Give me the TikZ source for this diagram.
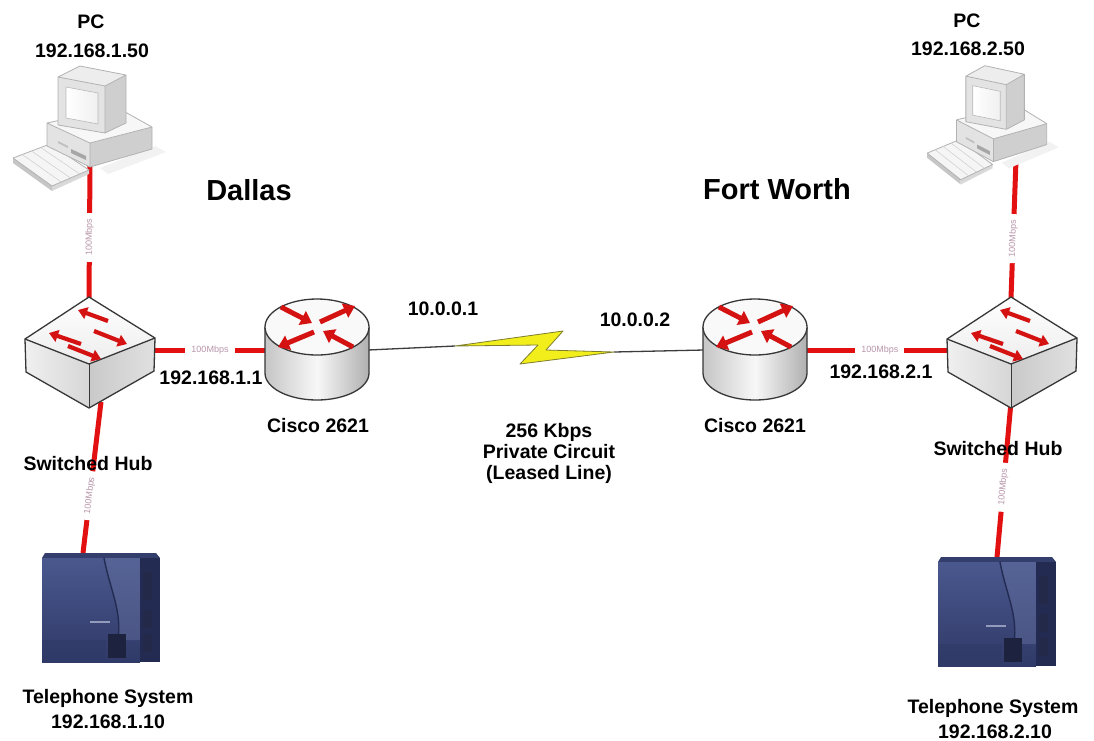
\documentclass[tikz,border=0pt]{standalone}
\usepackage{fontspec}
\setmainfont{Liberation Sans}
\usetikzlibrary{arrows.meta,calc}

\definecolor{edge}{RGB}{55,55,55}
\definecolor{cable}{RGB}{226,16,16}
\definecolor{rtarrow}{RGB}{212,18,18}
\definecolor{wanline}{RGB}{60,60,60}
\definecolor{bolt}{RGB}{242,238,28}
\definecolor{boltedge}{RGB}{125,125,45}
\definecolor{speedtxt}{RGB}{185,150,170}
\definecolor{pbxhi}{RGB}{74,88,142}
\definecolor{pbxlo}{RGB}{48,58,104}
\definecolor{pbxside}{RGB}{36,43,82}
\definecolor{pbxtop}{RGB}{52,62,108}

% Cisco-style router: cylinder with four crossing arrows on the lid
\newcommand\drawrouter[1]{%
\begin{scope}[shift={(#1,0)}]
  \shade[left color=gray!45, right color=gray!62, middle color=gray!6]
    (0,373) ellipse [x radius=52pt, y radius=27pt];
  \shade[left color=gray!45, right color=gray!62, middle color=gray!6]
    (-52,327) rectangle (52,373);
  \draw[edge, line width=1.3pt] (-52,327) -- (-52,373)
    arc[start angle=180, end angle=360, x radius=52pt, y radius=27pt] -- (52,327);
  \draw[edge, line width=1.3pt, fill=gray!5] (0,327) ellipse [x radius=52pt, y radius=28pt];
  \begin{scope}[rtarrow, line width=5pt, -{Triangle[length=11pt,width=15pt]}]
    \draw (-36,307) -- (-5,323);
    \draw (36,347) -- (6,331);
    \draw (3,322) -- (38,306);
    \draw (-3,332) -- (-39,347);
  \end{scope}
\end{scope}}

% Workgroup switch: isometric box with four arrows on the top face
\newcommand\drawswitch[1]{%
\begin{scope}[shift={(#1,0)}]
  \shade[left color=gray!12, right color=gray!32]
    (-64,339) -- (0,364) -- (0,408) -- (-63,372) -- cycle;
  \shade[left color=gray!42, right color=gray!24]
    (0,364) -- (66,338) -- (65,371) -- (0,408) -- cycle;
  \shade[top color=white, bottom color=gray!14]
    (0,297) -- (66,338) -- (0,364) -- (-64,339) -- cycle;
  \draw[edge, line width=1.3pt, line join=round]
    (0,297) -- (66,338) -- (65,371) -- (0,408) -- (-63,372) -- (-64,339) -- cycle;
  \draw[edge, line width=1.3pt, line join=round] (-64,339) -- (0,364) -- (66,338);
  \draw[edge, line width=1pt] (0,364) -- (0,408);
  \begin{scope}[rtarrow, line width=4.2pt, -{Triangle[length=9pt,width=12pt]}]
    \draw (19,321) -- (-11,310);
    \draw (-8,344) -- (-40,333);
    \draw (5,331) -- (38,344);
    \draw (-21,346) -- (12,359);
  \end{scope}
\end{scope}}

% Desktop PC: system unit, monitor and keyboard
\newcommand\drawpc[1]{%
\begin{scope}[#1]
  \fill[gray!10] (100,168) -- (155,146) -- (166,152) -- (108,174) -- cycle;
  % keyboard
  \fill[gray!45] (13,158) -- (52,186) -- (52,191) -- (13,163) -- cycle;
  \fill[gray!30] (52,186) -- (89,170) -- (89,174) -- (52,191) -- cycle;
  \draw[gray!60, line width=0.8pt, fill=gray!8, line join=round]
    (13,158) -- (50,144) -- (89,170) -- (52,186) -- cycle;
  \foreach \t in {0.25,0.5,0.75}
    \draw[gray!35, line width=0.6pt] ($(13,158)!\t!(50,144)$) -- ($(52,186)!\t!(89,170)$);
  % system unit
  \fill[gray!22] (47,123) -- (90,143) -- (90,167) -- (47,146) -- cycle;
  \fill[gray!38] (90,143) -- (152,127) -- (152,149) -- (90,167) -- cycle;
  \fill[gray!6] (47,123) -- (118,108) -- (152,127) -- (90,143) -- cycle;
  \draw[gray!60, line width=0.8pt, line join=round]
    (47,123) -- (118,108) -- (152,127) -- (152,149) -- (90,167) -- (47,146) -- cycle
    (47,123) -- (90,143) -- (152,127) (90,143) -- (90,167);
  \fill[gray!70] (71,149) -- (86,156) -- (86,160) -- (71,153) -- cycle;
  \fill[gray!50] (58,141) -- (68,146) -- (68,148) -- (58,143) -- cycle;
  % monitor
  \fill[gray!38] (105,86) -- (126,75) -- (126,123) -- (105,133) -- cycle;
  \fill[gray!14] (58,77) -- (80,66) -- (126,75) -- (105,86) -- cycle;
  \fill[gray!22] (58,77) -- (105,86) -- (105,133) -- (58,125) -- cycle;
  \draw[gray!60, line width=0.8pt, line join=round]
    (58,77) -- (80,66) -- (126,75) -- (126,123) -- (105,133) -- (58,125) -- cycle
    (58,77) -- (105,86) -- (126,75) (105,86) -- (105,133);
  \shade[left color=white, right color=gray!12, draw=gray!55, line width=0.6pt]
    (66,87) -- (98,93) -- (98,124) -- (66,118) -- cycle;
\end{scope}}

% Telephone system cabinet
\newcommand\drawpbx[2]{%
\begin{scope}[shift={(#1,#2)}]
  \fill[pbxtop] (45,553) -- (156,553) -- (160,558) -- (42,558) -- cycle;
  \shade[top color=pbxhi, bottom color=pbxlo] (42,558) rectangle (140,662);
  \fill[pbxhi!85!white, opacity=0.45]
    (104,558) .. controls (110,590) and (122,610) .. (118,640) -- (140,640) -- (140,558) -- cycle;
  \draw[pbxside, line width=1.4pt]
    (104,558) .. controls (110,590) and (122,610) .. (118,640);
  \fill[pbxside] (140,558) rectangle (160,662);
  \fill[pbxlo!70!black] (143,572) rectangle (152,600);
  \fill[pbxlo!70!black] (143,610) rectangle (152,628);
  \fill[pbxlo!70!black] (143,634) rectangle (152,652);
  \fill[pbxlo!60!black] (108,634) rectangle (126,658);
  \fill[pbxhi!60!white] (90,621) rectangle (110,623);
  \fill[pbxlo, opacity=0.6] (42,640) rectangle (106,662);
\end{scope}}

\begin{document}
\begin{tikzpicture}[x=1pt, y=-1pt,
  lbl/.style={font=\bfseries\fontsize{19.5}{23}\selectfont, inner sep=0pt, anchor=base},
  city/.style={font=\bfseries\fontsize{29}{34}\selectfont, inner sep=0pt, anchor=base},
  lan/.style={draw=cable, line width=5pt},
  wan/.style={draw=wanline, line width=1.3pt},
  speed/.style={font=\fontsize{9}{10}\selectfont, text=speedtxt, fill=white,
    inner xsep=6pt, inner ysep=1pt}]

\fill[white] (0,0) rectangle (1094,740);
\useasboundingbox (0,0) rectangle (1094,740);

% connection points of the devices
\coordinate (pcL) at (90,166);
\coordinate (swLtop) at (89,298);
\coordinate (swLright) at (154,350);
\coordinate (swLbot) at (101,402);
\coordinate (telL) at (83,553);
\coordinate (rtLleft) at (266,350);
\coordinate (rtLright) at (368,350);
\coordinate (boltA) at (455,346);
\coordinate (boltB) at (614,352);
\coordinate (rtRleft) at (704,350);
\coordinate (rtRright) at (806,350);
\coordinate (swRleft) at (948,350);
\coordinate (swRtop) at (1011,298);
\coordinate (swRbot) at (1011,402);
\coordinate (pcR) at (1016,160);
\coordinate (telR) at (997,557);

% LAN cables
\draw[lan] (pcL) -- node[speed, rotate=90, pos=0.54] {100Mbps} (swLtop);
\draw[lan] (swLright) -- node[speed, pos=0.5] {100Mbps} (rtLleft);
\draw[lan] (swLbot) -- node[speed, rotate=83, pos=0.62] {100Mbps} (telL);
\draw[lan] (pcR) -- node[speed, rotate=88, pos=0.57] {100Mbps} (swRtop);
\draw[lan] (rtRright) -- node[speed, pos=0.52] {100Mbps} (swRleft);
\draw[lan] (swRbot) -- node[speed, rotate=85, pos=0.55] {100Mbps} (telR);

% leased line between the routers
\draw[wan] (rtLright) -- (boltA);
\draw[wan] (boltB) -- (rtRleft);
\fill[bolt, draw=boltedge, line width=0.8pt, line join=round]
  (boltA) -- (563,331) -- (546,350) -- (boltB) -- (520,364) -- (538,345) -- cycle;

% devices
\drawpc{shift={(0,0)}}
\drawpc{shift={(916,3)}, xscale=0.86, yscale=0.95}
\drawswitch{89}
\drawswitch{1011}
\drawrouter{317}
\drawrouter{755}
\drawpbx{0}{0}
\drawpbx{896}{4}

% labels
\node[lbl] (pcLname) at (91,28) {PC};
\node[lbl] (pcLip) at (92,57) {192.168.1.50};
\node[lbl] (pcRname) at (967,27) {PC};
\node[lbl] (pcRip) at (968,55) {192.168.2.50};
\node[city] (dallas) at (249,200) {Dallas};
\node[city] (fortworth) at (777,199) {Fort Worth};
\node[lbl] (ipA) at (443,315) {10.0.0.1};
\node[lbl] (ipB) at (635,326) {10.0.0.2};
\node[lbl] (gwL) at (211,384) {192.168.1.1};
\node[lbl] (gwR) at (881,378) {192.168.2.1};
\node[lbl] (rtLname) at (318,432) {Cisco 2621};
\node[lbl] (rtRname) at (755,432) {Cisco 2621};
\node[lbl] (circ1) at (549,437) {256 Kbps};
\node[lbl] (circ2) at (549,458) {Private Circuit};
\node[lbl] (circ3) at (549,479) {(Leased Line)};
\node[lbl] (swLname) at (88,470) {Switched Hub};
\node[lbl] (swRname) at (998,455) {Switched Hub};
\node[lbl] (telLname) at (108,703) {Telephone System};
\node[lbl] (telLip) at (108,728) {192.168.1.10};
\node[lbl] (telRname) at (993,713) {Telephone System};
\node[lbl] (telRip) at (995,738) {192.168.2.10};
\end{tikzpicture}
\end{document}
